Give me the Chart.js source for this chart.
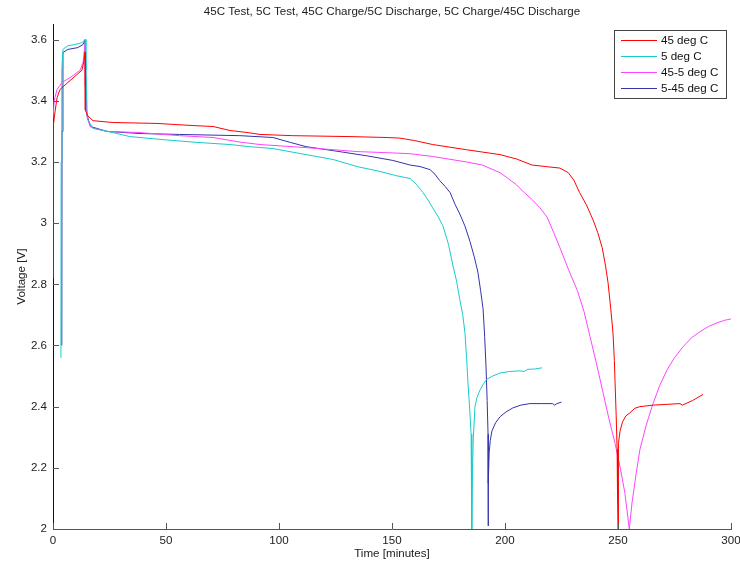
<!DOCTYPE html>
<html>
<head>
<meta charset="utf-8">
<script src="https://cdn.jsdelivr.net/npm/chart.js@4.4.0/dist/chart.umd.min.js"></script>
<style>
  html, body { margin: 0; padding: 0; background: #fff; }
</style>
</head>
<body>
<canvas id="voltChart" width="740" height="569"></canvas>
<script>
// time [minutes] / voltage [V] pairs
var t45 = [0, 0, 0.3, 1, 1.8, 3.1, 6.6, 9.7, 12.8, 13.7, 14.2, 14.3, 15.5, 17.7, 26.5, 46, 62, 70.8, 78.3, 86.3, 91.6, 106, 131.4, 147.8, 153.5, 160, 168, 183, 197.8, 205, 212, 218, 224.3, 228, 230.5, 233, 236, 239, 241, 243, 244.5, 245.6, 246.8, 247.8, 248.4, 248.7, 249.2, 249.6, 249.8, 250, 250.2, 250.9, 252, 253.5, 255.3, 257.5, 259.7, 265.5, 277.4, 278.5, 283, 287.6];
var v45 = [2.82, 3.25, 3.32, 3.37, 3.41, 3.437, 3.46, 3.48, 3.50, 3.53, 3.56, 3.37, 3.35, 3.335, 3.329, 3.326, 3.319, 3.316, 3.303, 3.296, 3.29, 3.286, 3.283, 3.28, 3.278, 3.27, 3.257, 3.24, 3.224, 3.21, 3.19, 3.185, 3.18, 3.165, 3.14, 3.10, 3.06, 3.01, 2.97, 2.92, 2.86, 2.805, 2.72, 2.64, 2.55, 2.48, 2.37, 2.26, 2.1, 2.0, 2.28, 2.32, 2.35, 2.37, 2.38, 2.395, 2.40, 2.405, 2.41, 2.405, 2.42, 2.44];

var t5 = [3.5, 3.6, 3.9, 4.4, 6.6, 9.7, 12.8, 14.2, 14.6, 15.2, 17.7, 26.5, 34, 48.7, 63.7, 78.3, 87, 97.3, 112, 124, 134.5, 144.7, 152, 158, 161, 163.7, 166, 168, 170.5, 172.6, 175, 177, 178.6, 180, 181.3, 182.3, 183, 183.6, 184.4, 185, 185.3, 185.3, 185.6, 186, 186.7, 187.6, 189, 190.5, 192, 194.5, 197.8, 202, 206.6, 208.5, 210, 213, 216.4];
var v5 = [2.56, 3.2, 3.5, 3.568, 3.58, 3.584, 3.59, 3.6, 3.5, 3.34, 3.31, 3.296, 3.283, 3.273, 3.264, 3.257, 3.25, 3.244, 3.224, 3.208, 3.185, 3.169, 3.155, 3.146, 3.125, 3.10, 3.075, 3.05, 3.02, 2.99, 2.93, 2.86, 2.81, 2.75, 2.70, 2.64, 2.56, 2.48, 2.39, 2.31, 2.15, 2.0, 2.19, 2.30, 2.40, 2.43, 2.455, 2.475, 2.49, 2.50, 2.51, 2.515, 2.517, 2.515, 2.522, 2.523, 2.527];

var t45to5 = [0, 0.5, 1.8, 4, 8.4, 12, 13.3, 14.2, 14.3, 15, 16.4, 18, 24, 38.5, 56, 70.8, 82.7, 91.6, 112, 134.5, 149, 158, 168, 183, 190, 197.8, 201, 205, 208.5, 212, 215.5, 218.6, 221.5, 224.3, 228, 232, 235, 237.6, 240.5, 243.4, 246, 248.7, 251, 253, 254, 255, 256.2, 258, 259.7, 262.5, 265.5, 268.5, 271.7, 275, 278.8, 282.5, 286.3, 290, 293.8, 297, 300];
var v45to5 = [3.34, 3.40, 3.437, 3.46, 3.48, 3.50, 3.525, 3.59, 3.45, 3.35, 3.316, 3.31, 3.30, 3.296, 3.286, 3.28, 3.265, 3.257, 3.247, 3.234, 3.23, 3.227, 3.218, 3.20, 3.19, 3.165, 3.148, 3.126, 3.10, 3.077, 3.05, 3.02, 2.97, 2.92, 2.85, 2.78, 2.71, 2.63, 2.54, 2.445, 2.36, 2.28, 2.20, 2.12, 2.06, 2.0, 2.085, 2.18, 2.26, 2.34, 2.41, 2.47, 2.52, 2.56, 2.596, 2.625, 2.645, 2.662, 2.674, 2.682, 2.687];

var t5to45 = [3.9, 4.0, 4.4, 6.6, 11, 13.3, 14.2, 14.6, 14.8, 16.4, 17, 23.9, 38.5, 56, 82.7, 97.3, 105, 112, 124, 139, 150.4, 158, 162.4, 166.8, 169, 171, 173.5, 175.7, 178, 180, 182.3, 184.5, 186.4, 188, 189.2, 190.3, 191, 191.6, 192.1, 192.5, 192.5, 192.7, 193, 193.5, 194.2, 195.8, 197.8, 200.5, 203.5, 207, 211, 216, 221, 222, 223, 225];
var v5to45 = [2.60, 3.3, 3.558, 3.568, 3.574, 3.584, 3.6, 3.6, 3.36, 3.32, 3.315, 3.30, 3.293, 3.29, 3.286, 3.28, 3.264, 3.25, 3.237, 3.22, 3.205, 3.19, 3.185, 3.175, 3.16, 3.14, 3.12, 3.10, 3.06, 3.03, 2.99, 2.94, 2.89, 2.84, 2.78, 2.72, 2.63, 2.53, 2.42, 2.31, 2.01, 2.15, 2.25, 2.29, 2.32, 2.347, 2.367, 2.383, 2.396, 2.405, 2.41, 2.41, 2.41, 2.405, 2.41, 2.415];

var seriesNames = ['45 deg C', '5 deg C', '45-5 deg C', '5-45 deg C'];
var seriesColors = ['#ff0000', '#16cccc', '#ff44ff', '#3333aa'];

var xTicks = [0, 50, 100, 150, 200, 250, 300];
var yTicks = [2, 2.2, 2.4, 2.6, 2.8, 3, 3.2, 3.4, 3.6];

var fontFamily = '"Liberation Sans", Arial, Helvetica, sans-serif';
var fontSize = 11.6;

function pairs(ts, vs) {
  return ts.map(function (t, i) { return { x: t, y: vs[i] }; });
}

// inward tick marks like matlab
var insideTicks = {
  id: 'insideTicks',
  afterDraw: function (chart) {
    var ctx = chart.ctx, area = chart.chartArea;
    var xs = chart.scales.x, ys = chart.scales.y;
    ctx.save();
    ctx.strokeStyle = '#555';
    ctx.lineWidth = 1;
    ctx.beginPath();
    yTicks.forEach(function (v) {
      var y = Math.round(ys.getPixelForValue(v)) + 0.5;
      ctx.moveTo(area.left, y);
      ctx.lineTo(area.left + 6, y);
    });
    xTicks.forEach(function (v) {
      var x = Math.round(xs.getPixelForValue(v)) + 0.5;
      ctx.moveTo(x, area.bottom);
      ctx.lineTo(x, area.bottom - 6);
    });
    ctx.stroke();
    ctx.restore();
  }
};

// boxed legend in the top right corner
var boxLegend = {
  id: 'boxLegend',
  afterDraw: function (chart) {
    var ctx = chart.ctx, area = chart.chartArea;
    var w = 112, h = 68;
    var x0 = area.right - 5 - w, y0 = area.top + 6;
    ctx.save();
    ctx.fillStyle = '#fff';
    ctx.fillRect(x0, y0, w, h);
    ctx.strokeStyle = '#444';
    ctx.lineWidth = 1;
    ctx.strokeRect(Math.round(x0) + 0.5, Math.round(y0) + 0.5, w, h);
    ctx.font = fontSize + 'px ' + fontFamily;
    ctx.textBaseline = 'middle';
    chart.data.datasets.forEach(function (ds, i) {
      var y = Math.round(y0 + 10 + i * 16) + 0.5;
      ctx.strokeStyle = ds.borderColor;
      ctx.beginPath();
      ctx.moveTo(x0 + 7, y);
      ctx.lineTo(x0 + 43, y);
      ctx.stroke();
      ctx.fillStyle = '#111';
      ctx.fillText(ds.label, x0 + 47, y);
    });
    ctx.restore();
  }
};

var canvas = document.getElementById('voltChart');
var voltChart = new Chart(canvas, {
  type: 'line',
  data: {
    datasets: [
      { label: seriesNames[0], data: pairs(t45, v45), borderColor: seriesColors[0] },
      { label: seriesNames[1], data: pairs(t5, v5), borderColor: seriesColors[1] },
      { label: seriesNames[2], data: pairs(t45to5, v45to5), borderColor: seriesColors[2] },
      { label: seriesNames[3], data: pairs(t5to45, v5to45), borderColor: seriesColors[3] }
    ]
  },
  options: {
    responsive: false,
    animation: false,
    devicePixelRatio: 1,
    layout: { padding: { left: 0, right: 9, top: 0, bottom: 0 } },
    elements: {
      point: { radius: 0 },
      line: { borderWidth: 1, tension: 0, fill: false }
    },
    plugins: {
      legend: { display: false },
      tooltip: { enabled: false },
      title: {
        display: true,
        fullSize: false,
        text: '45C Test, 5C Test, 45C Charge/5C Discharge, 5C Charge/45C Discharge',
        color: '#222',
        font: { family: fontFamily, size: fontSize, weight: 'normal', lineHeight: 1.15 },
        padding: { top: 5, bottom: 6 }
      }
    },
    scales: {
      x: {
        type: 'linear',
        min: 0,
        max: 300,
        afterBuildTicks: function (s) { s.ticks = xTicks.map(function (v) { return { value: v }; }); },
        afterFit: function (s) { s.height = 40; s.paddingRight = 0; s.paddingLeft = 0; },
        grid: { display: false, drawTicks: false },
        border: { display: true, color: '#555' },
        ticks: {
          color: '#222',
          padding: 5,
          maxRotation: 0,
          font: { family: fontFamily, size: fontSize },
          callback: function (v) { return String(v); }
        },
        title: {
          display: true,
          text: 'Time [minutes]',
          color: '#222',
          font: { family: fontFamily, size: fontSize },
          padding: { top: 0, bottom: 8 }
        }
      },
      y: {
        type: 'linear',
        min: 2,
        max: 3.65,
        afterBuildTicks: function (s) { s.ticks = yTicks.map(function (v) { return { value: v }; }); },
        afterFit: function (s) { s.width = 53; s.paddingTop = 0; s.paddingBottom = 0; },
        grid: { display: false, drawTicks: false },
        border: { display: true, color: '#111' },
        ticks: {
          color: '#222',
          padding: 6,
          font: { family: fontFamily, size: fontSize },
          callback: function (v) { return String(+v.toFixed(1)); }
        },
        title: {
          display: true,
          text: 'Voltage [V]',
          color: '#222',
          font: { family: fontFamily, size: fontSize },
          padding: { top: 15, bottom: 0 }
        }
      }
    }
  },
  plugins: [insideTicks, boxLegend]
});
</script>
</body>
</html>
